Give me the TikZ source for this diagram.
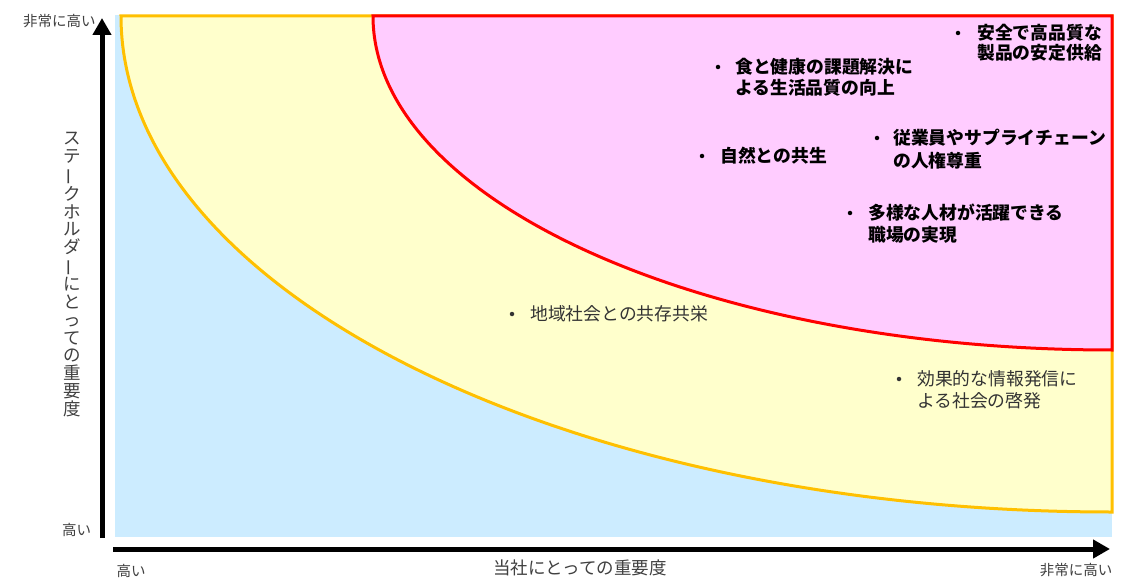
\documentclass[tikz,border=0pt]{standalone}
\usepackage{fontspec}
\usepackage{graphicx}
\setmainfont{Noto Sans CJK JP}
\usetikzlibrary{arrows.meta}
\definecolor{skyfill}{HTML}{CCECFF}
\definecolor{yelfill}{HTML}{FFFFCC}
\definecolor{pinkfill}{HTML}{FFCCFF}
\definecolor{goldline}{HTML}{FFC000}
\definecolor{redline}{HTML}{FF0000}
\definecolor{labgray}{HTML}{404040}
\definecolor{txtgray}{HTML}{333333}
\newcommand\tatebar{\rotatebox[origin=c]{90}{ー}}
\begin{document}
\begin{tikzpicture}[x=1pt,y=-1pt,
  axisline/.style={line width=5pt, -{Triangle[width=18pt,length=17pt]}},
  smalllab/.style={font=\fontsize{14.5}{16}\selectfont, text=labgray, inner sep=0pt},
  axistitle/.style={font=\fontsize{17.5}{17.8}\selectfont, text=labgray, inner sep=0pt},
  boldline/.style={font=\fontsize{17.8}{21}\selectfont\bfseries, text=black, inner sep=0pt, anchor=base west},
  plainline/.style={font=\fontsize{17.8}{21}\selectfont, text=txtgray, inner sep=0pt, anchor=base west},
  bulletdot/.style={circle, fill=#1, inner sep=0pt, minimum size=4.5pt},
]
\useasboundingbox (0,0) rectangle (1130,580);
\fill[white] (0,0) rectangle (1130,580);

% zones
\fill[skyfill] (115,15) rectangle (1112,537);
\filldraw[fill=yelfill, draw=goldline, line width=3pt, line join=miter]
  (121,16) -- (1112,16) -- (1112,512)
  arc[start angle=270, end angle=180, x radius=991pt, y radius=496pt] -- cycle;
\filldraw[fill=pinkfill, draw=redline, line width=3pt, line join=miter]
  (373,16) -- (1112,16) -- (1112,350)
  arc[start angle=270, end angle=180, x radius=739pt, y radius=334pt] -- cycle;

% axes
\coordinate (ybot) at (102,538);
\coordinate (ytop) at (102,18);
\coordinate (xleft) at (113,549);
\coordinate (xright) at (1110,549);
\draw[axisline] (ybot) -- (ytop);
\draw[axisline] (xleft) -- (xright);

% axis labels
\node[smalllab] (yhigh) at (59.5,21) {非常に高い};
\node[smalllab] (ylow) at (76.5,530) {高い};
\node[smalllab] (xlow) at (131,571) {高い};
\node[smalllab] (xhigh) at (1076,570) {非常に高い};
\node[axistitle] (xtitle) at (580,568) {当社にとっての重要度};
\node[axistitle, align=center] (ytitle) at (72,274.5)
  {ス\\テ\\\tatebar\\ク\\ホ\\ル\\ダ\\\tatebar\\に\\と\\っ\\て\\の\\重\\要\\度};

% items in the pink zone
\node[bulletdot=black] (b1) at (958,33) {};
\node[boldline] (t1a) at (977,39.6) {安全で高品質な};
\node[boldline] (t1b) at (977,59.6) {製品の安定供給};

\node[bulletdot=black] (b2) at (718,67) {};
\node[boldline] (t2a) at (735,73.6) {食と健康の課題解決に};
\node[boldline] (t2b) at (735,94.6) {よる生活品質の向上};

\node[bulletdot=black] (b3) at (702,156) {};
\node[boldline] (t3a) at (720,162.6) {自然との共生};

\node[bulletdot=black] (b4) at (877,138) {};
\node[boldline] (t4a) at (893,144.6) {従業員やサプライチェーン};
\node[boldline] (t4b) at (893,167.6) {の人権尊重};

\node[bulletdot=black] (b5) at (850,213) {};
\node[boldline] (t5a) at (868,219.6) {多様な人材が活躍できる};
\node[boldline] (t5b) at (868,241.6) {職場の実現};

% items in the yellow zone
\node[bulletdot=txtgray] (b6) at (512,314) {};
\node[plainline] (t6a) at (530,320.6) {地域社会との共存共栄};

\node[bulletdot=txtgray] (b7) at (899,379) {};
\node[plainline] (t7a) at (917,385.6) {効果的な情報発信に};
\node[plainline] (t7b) at (917,407.6) {よる社会の啓発};
\end{tikzpicture}
\end{document}
